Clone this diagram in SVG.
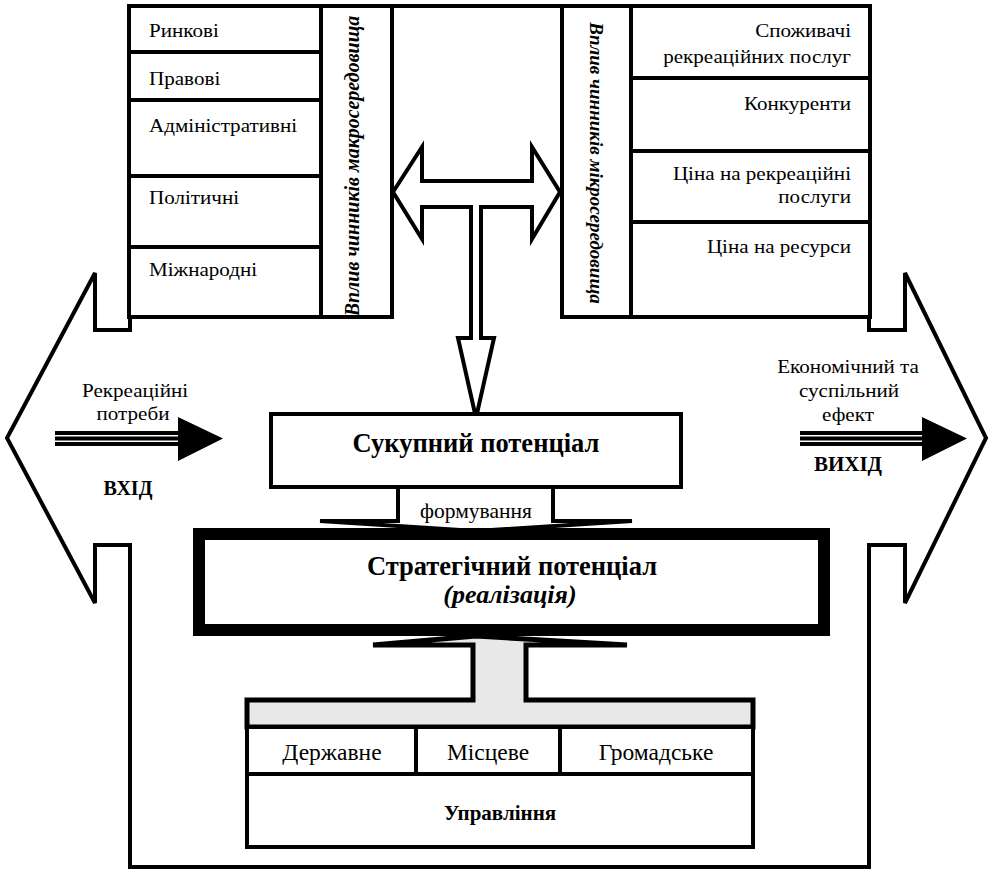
<svg xmlns="http://www.w3.org/2000/svg" width="991" height="871" viewBox="0 0 991 871">
<style>
.box{fill:#fff;stroke:#000;stroke-width:4}
.ln{stroke:#000;stroke-width:4;fill:none}
text{font-family:'Liberation Serif','Times New Roman',Times,serif;font-size:19px;fill:#000}
.b{font-weight:bold}
.i{font-style:italic}
.m{text-anchor:middle}
.e{text-anchor:end}
</style>
<rect width="991" height="871" fill="#fff"/>
<g id="frame">
<path class="ln" stroke-width="3.5" d="M130,317 L130,330 L95,330 L95,273 L7,438 L95,603 L95,545 L130,545 L130,867 L869,867 L869,545 L905,545 L905,603 L986,438 L905,273 L905,330 L869,330 L869,317"/>
<line class="ln" x1="392" y1="6" x2="562" y2="6"/>
</g>
<g id="macro">
<rect class="box" x="129" y="6" width="263" height="311"/>
<line class="ln" x1="321" y1="6" x2="321" y2="317"/>
<line class="ln" x1="129" y1="52" x2="321" y2="52"/>
<line class="ln" x1="129" y1="100" x2="321" y2="100"/>
<line class="ln" x1="129" y1="176" x2="321" y2="176"/>
<line class="ln" x1="129" y1="247" x2="321" y2="247"/>
<g transform="translate(149 0) scale(1.11 1)">
<text x="0" y="37">Ринкові</text>
<text x="0" y="85">Правові</text>
<text x="0" y="132">Адміністративні</text>
<text x="0" y="204">Політичні</text>
<text x="0" y="276">Міжнародні</text>
</g>
<text class="b i m" style="font-size:20px" transform="translate(359,166) rotate(-90)">Вплив чинників макросередовища</text>
</g>
<g id="micro">
<rect class="box" x="562" y="6" width="308" height="311"/>
<line class="ln" x1="631" y1="6" x2="631" y2="317"/>
<line class="ln" x1="631" y1="78" x2="870" y2="78"/>
<line class="ln" x1="631" y1="151" x2="870" y2="151"/>
<line class="ln" x1="631" y1="222" x2="870" y2="222"/>
<g transform="translate(851 0) scale(1.11 1)">
<text class="e" x="0" y="37">Споживачі</text>
<text class="e" x="0" y="63">рекреаційних послуг</text>
<text class="e" x="0" y="110">Конкуренти</text>
<text class="e" x="0" y="180">Ціна на рекреаційні</text>
<text class="e" x="0" y="203">послуги</text>
<text class="e" x="0" y="253">Ціна на ресурси</text>
</g>
<text class="b i m" style="font-size:19px" transform="translate(590,163) rotate(90)">Вплив чинників мікросередовища</text>
</g>
<g id="connectors">
<polygon class="box" points="393,192 422,147 422,181 532,181 532,147 560,192 532,239 532,207 481,207 481,338 494,338 476,418 458,338 471,338 471,207 422,207 422,239"/>
<polyline class="box" points="398,487 398,521 320,521 476,531 632,521 553,521 553,487"/>
<path fill="#e8e8e8" stroke="#000" stroke-width="5" d="M476,636 L627,645 L526,645 L526,700 L753,700 L753,727 L247,727 L247,700 L473,700 L473,645 L373,645 Z"/>
<g id="input-arrow">
<line class="ln" stroke-width="3" x1="55" y1="433" x2="180" y2="433"/>
<line class="ln" stroke-width="3.5" x1="55" y1="438.5" x2="180" y2="438.5"/>
<line class="ln" stroke-width="3" x1="55" y1="444" x2="180" y2="444"/>
<polygon points="178,417 223,438.5 178,461" fill="#000"/>
</g>
<g id="output-arrow">
<line class="ln" stroke-width="3" x1="800" y1="433" x2="924" y2="433"/>
<line class="ln" stroke-width="3.5" x1="800" y1="438.5" x2="924" y2="438.5"/>
<line class="ln" stroke-width="3" x1="800" y1="444" x2="924" y2="444"/>
<polygon points="922,417 967,438.5 922,461" fill="#000"/>
</g>
</g>
<g id="input">
<text class="m" x="0" y="397" transform="translate(135 0) scale(1.11 1)">Рекреаційні</text>
<text class="m" x="0" y="420" transform="translate(133 0) scale(1.11 1)">потреби</text>
<text class="b m" x="128" y="495" style="font-size:20px">ВХІД</text>
</g>
<g id="output">
<text class="m" x="0" y="373" transform="translate(848 0) scale(1.11 1)">Економічний та</text>
<text class="m" x="0" y="397" transform="translate(849 0) scale(1.11 1)">суспільний</text>
<text class="m" x="0" y="421" transform="translate(848 0) scale(1.11 1)">ефект</text>
<text class="b m" x="848" y="471" style="font-size:21px">ВИХІД</text>
</g>
<g id="total">
<rect class="box" x="271" y="414" width="410" height="73"/>
<text class="b m" x="476" y="452" style="font-size:26.5px">Сукупний потенціал</text>
</g>
<text class="m" x="476" y="518" style="font-size:21.5px">формування</text>
<g id="strategic">
<rect x="199" y="534" width="625" height="96" fill="#fff" stroke="#000" stroke-width="12"/>
<text class="b m" x="512" y="575" style="font-size:26.5px">Стратегічний потенціал</text>
<text class="b i m" x="510" y="603" style="font-size:26px">(реалізація)</text>
</g>
<g id="management">
<rect class="box" stroke-width="4.5" x="247" y="727" width="506" height="47"/>
<line class="ln" stroke-width="4.5" x1="416" y1="727" x2="416" y2="774"/>
<line class="ln" stroke-width="4.5" x1="560" y1="727" x2="560" y2="774"/>
<rect class="box" stroke-width="4.5" x="247" y="774" width="506" height="73"/>
<text class="m" x="332" y="760" style="font-size:23.5px">Державне</text>
<text class="m" x="488" y="760" style="font-size:23.5px">Місцеве</text>
<text class="m" x="656" y="760" style="font-size:23.5px">Громадське</text>
<text class="b m" x="500" y="820" style="font-size:21px">Управління</text>
</g>
</svg>
